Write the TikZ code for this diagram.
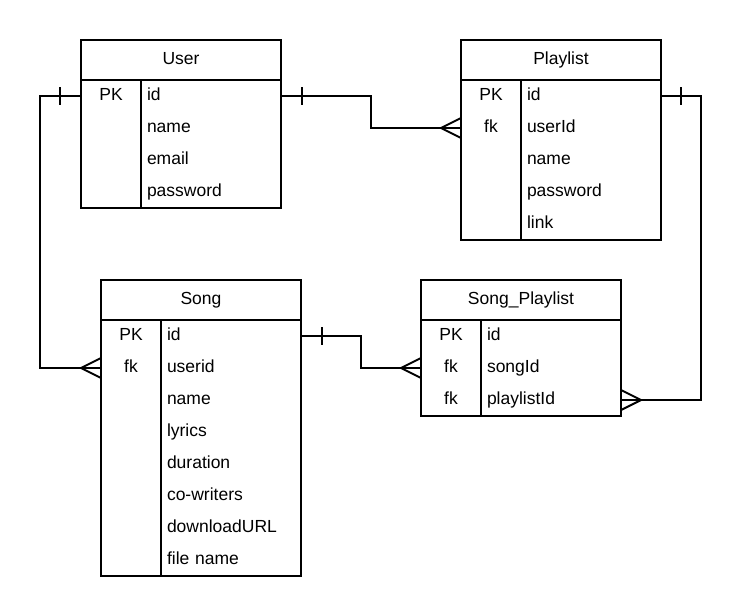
\documentclass[tikz,border=0pt]{standalone}
\usepackage{fontspec}
\setmainfont{Liberation Sans}
\usetikzlibrary{positioning}

\tikzset{
  er/.style={line width=2pt},
  title/.style={draw, line width=2pt, minimum width=200pt, minimum height=40pt, inner sep=0pt, text height=12.5pt, text depth=3.5pt},
  keycell/.style={minimum width=60pt, minimum height=32pt, inner sep=0pt, outer sep=0pt, anchor=north west, text height=12.5pt, text depth=3.5pt},
  fieldcell/.style={text width=128pt, inner xsep=6pt, inner ysep=0pt, outer sep=0pt, minimum height=32pt, align=left, text height=12.5pt, text depth=3.5pt},
}

\begin{document}
\begin{tikzpicture}[x=1pt,y=-1pt,font=\fontsize{17.5}{20}\selectfont]
\useasboundingbox (0,0) rectangle (742,616);

% User
\node[title] (user) at (181,60) {User};
\foreach \k/\f [count=\i] in {PK/id, /name, /email, /password}{
  \node[keycell] (user-k\i) at (81,{48+32*\i}) {\k};
  \node[fieldcell, right=0pt of user-k\i] (user-f\i) {\f};
}
\draw[er] (user-k1.north west) rectangle (user-f4.south east);
\draw[er] (user-k1.north east) -- (user-k4.south east);

% Playlist
\node[title] (playlist) at (561,60) {Playlist};
\foreach \k/\f [count=\i] in {PK/id, fk/userId, /name, /password, /link}{
  \node[keycell] (playlist-k\i) at (461,{48+32*\i}) {\k};
  \node[fieldcell, right=0pt of playlist-k\i] (playlist-f\i) {\f};
}
\draw[er] (playlist-k1.north west) rectangle (playlist-f5.south east);
\draw[er] (playlist-k1.north east) -- (playlist-k5.south east);

% Song
\node[title] (song) at (201,300) {Song};
\foreach \k/\f [count=\i] in {PK/id, fk/userid, /name, /lyrics, /duration, /co-writers, /downloadURL, /file name}{
  \node[keycell] (song-k\i) at (101,{288+32*\i}) {\k};
  \node[fieldcell, right=0pt of song-k\i] (song-f\i) {\f};
}
\draw[er] (song-k1.north west) rectangle (song-f8.south east);
\draw[er] (song-k1.north east) -- (song-k8.south east);

% Song_Playlist
\node[title] (sp) at (521,300) {Song\_Playlist};
\foreach \k/\f [count=\i] in {PK/id, fk/songId, fk/playlistId}{
  \node[keycell] (sp-k\i) at (421,{288+32*\i}) {\k};
  \node[fieldcell, right=0pt of sp-k\i] (sp-f\i) {\f};
}
\draw[er] (sp-k1.north west) rectangle (sp-f3.south east);
\draw[er] (sp-k1.north east) -- (sp-k3.south east);

% relations
\draw[er] (user-f1.east) -- ++(90,0) |- (playlist-k2.west);
\draw[er] ([xshift=21pt]user-f1.east) ++(0,-9) -- ++(0,18);
\draw[er] ([yshift=10pt]playlist-k2.west) -- ([xshift=-20pt]playlist-k2.west) -- ([yshift=-10pt]playlist-k2.west);

\draw[er] (user-k1.west) -- ++(-41,0) |- (song-k2.west);
\draw[er] ([xshift=-21pt]user-k1.west) ++(0,-9) -- ++(0,18);
\draw[er] ([yshift=10pt]song-k2.west) -- ([xshift=-20pt]song-k2.west) -- ([yshift=-10pt]song-k2.west);

\draw[er] (song-f1.east) -- ++(60,0) |- (sp-k2.west);
\draw[er] ([xshift=21pt]song-f1.east) ++(0,-9) -- ++(0,18);
\draw[er] ([yshift=10pt]sp-k2.west) -- ([xshift=-20pt]sp-k2.west) -- ([yshift=-10pt]sp-k2.west);

\draw[er] (playlist-f1.east) -- ++(40,0) |- (sp-f3.east);
\draw[er] ([xshift=20pt]playlist-f1.east) ++(0,-9) -- ++(0,18);
\draw[er] ([yshift=10pt]sp-f3.east) -- ([xshift=20pt]sp-f3.east) -- ([yshift=-10pt]sp-f3.east);
\end{tikzpicture}
\end{document}
